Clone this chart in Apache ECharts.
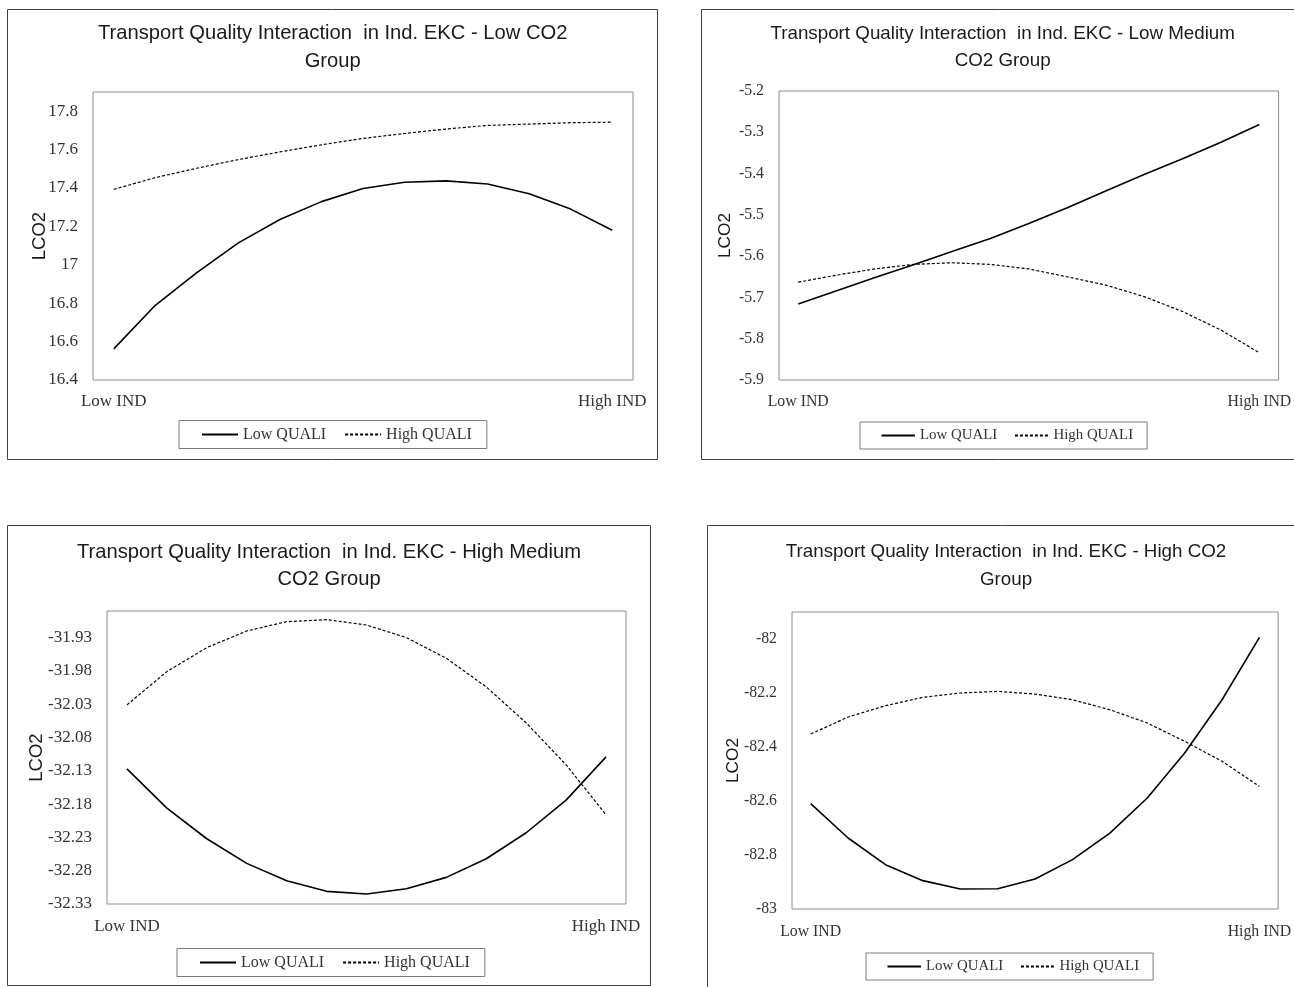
<!DOCTYPE html>
<html><head><meta charset="utf-8">
<script src="https://cdn.jsdelivr.net/npm/echarts@6/dist/echarts.min.js"></script>
<style>html,body{margin:0;padding:0;background:#fff}#chart{width:1294px;height:987px}</style>
</head><body><div id="chart"></div>
<script>
// ---------------- data ----------------
const categories = ['Low IND', '', '', '', '', '', '', '', '', '', '', '', 'High IND'];
const seriesNames = ['Low QUALI', 'High QUALI'];
const yAxisName = 'LCO2';

const titles = [
  'Transport Quality Interaction  in Ind. EKC - Low CO2\nGroup',
  'Transport Quality Interaction  in Ind. EKC - Low Medium\nCO2 Group',
  'Transport Quality Interaction  in Ind. EKC - High Medium\nCO2 Group',
  'Transport Quality Interaction  in Ind. EKC - High CO2\nGroup'
];

// Low CO2 group
const lowCO2_lowQuali  = [16.562, 16.789, 16.959, 17.114, 17.236, 17.329, 17.397, 17.430, 17.437, 17.421, 17.370, 17.290, 17.180];
const lowCO2_highQuali = [17.393, 17.454, 17.503, 17.548, 17.588, 17.625, 17.658, 17.684, 17.707, 17.726, 17.733, 17.740, 17.743];
// Low Medium CO2 group
const lowMed_lowQuali  = [-5.716, -5.684, -5.652, -5.621, -5.589, -5.557, -5.521, -5.483, -5.442, -5.402, -5.364, -5.324, -5.281];
const lowMed_highQuali = [-5.663, -5.646, -5.631, -5.620, -5.616, -5.620, -5.631, -5.650, -5.670, -5.698, -5.734, -5.779, -5.834];
// High Medium CO2 group
const highMed_lowQuali  = [-32.127, -32.186, -32.232, -32.269, -32.295, -32.311, -32.315, -32.307, -32.290, -32.262, -32.223, -32.174, -32.109];
const highMed_highQuali = [-32.031, -31.981, -31.945, -31.920, -31.906, -31.903, -31.911, -31.930, -31.961, -32.004, -32.058, -32.121, -32.196];
// High CO2 group
const high_lowQuali  = [-82.610, -82.737, -82.836, -82.895, -82.926, -82.925, -82.889, -82.817, -82.719, -82.589, -82.422, -82.225, -81.994];
const high_highQuali = [-82.352, -82.289, -82.247, -82.216, -82.200, -82.194, -82.204, -82.225, -82.262, -82.311, -82.379, -82.453, -82.546];

// y-axis scales (min, max, step) per panel
const yMin = [16.4, -5.9, -32.33, -83];
const yMax = [17.9, -5.2, -31.89, -81.9];
const yStep = [0.2, 0.1, 0.05, 0.2];
const yDecimals = [null, null, 2, null];
const yShowMaxLabel = [false, true, false, false];

const lowSeries = [lowCO2_lowQuali, lowMed_lowQuali, highMed_lowQuali, high_lowQuali];
const highSeries = [lowCO2_highQuali, lowMed_highQuali, highMed_highQuali, high_highQuali];

// ---------------- layout ----------------
const layout = [
  { s: 1.00, frame: [7.5, 9.5, 650, 450],  titleX: 332.7, titleY: 20, grid: [93, 92, 540, 288],  nameGap: 44, xMargin: 13, legend: [179, 420.5] },
  { s: 0.93, frame: [701.5, 9.5, 700, 450], titleX: 1002.7, titleY: 20, grid: [779, 91, 505, 289], nameGap: 45, xMargin: 14, legend: [860, 422] },
  { s: 1.00, frame: [7.5, 525.5, 643, 460], titleX: 329, titleY: 538.5, grid: [107, 611, 519, 293], nameGap: 61, xMargin: 14, legend: [177, 948.5] },
  { s: 0.93, frame: [707.5, 525.5, 700, 500], titleX: 1006, titleY: 538.5, grid: [792, 612, 493, 297], nameGap: 50, xMargin: 15, legend: [866, 953] }
];

const SERIF = 'Liberation Serif, Times New Roman, serif';
const SANS = 'Liberation Sans, Arial, sans-serif';

const option = {
  animation: false,
  backgroundColor: '#ffffff',
  grid: [], xAxis: [], yAxis: [], series: [], legend: [], graphic: []
};

layout.forEach((L, i) => {
  const s = L.s;
  option.graphic.push({
    type: 'rect', silent: true,
    shape: { x: L.frame[0], y: L.frame[1], width: L.frame[2], height: L.frame[3] },
    style: { fill: 'none', stroke: '#404040', lineWidth: 1 }
  });
  option.graphic.push({
    type: 'text', silent: true, x: L.titleX, y: L.titleY,
    style: {
      text: titles[i], fill: '#1a1a1a', fontFamily: SANS, fontSize: 20.2 * s,
      align: 'center', verticalAlign: 'top', lineHeight: 27.5
    }
  });
  option.grid.push({
    left: L.grid[0], top: L.grid[1], width: L.grid[2], height: L.grid[3],
    show: true, borderColor: '#8c8c8c', borderWidth: 1, containLabel: false
  });
  option.xAxis.push({
    type: 'category', gridIndex: i, data: categories, boundaryGap: true,
    axisLine: { show: false }, axisTick: { show: false }, splitLine: { show: false },
    axisLabel: { interval: 0, margin: L.xMargin, color: '#333', fontFamily: SERIF, fontSize: 17 * s }
  });
  const dec = yDecimals[i];
  option.yAxis.push({
    type: 'value', gridIndex: i, min: yMin[i], max: yMax[i], interval: yStep[i],
    name: yAxisName, nameLocation: 'middle', nameRotate: 90, nameGap: L.nameGap,
    nameMoveOverlap: false,
    nameTextStyle: { color: '#1a1a1a', fontFamily: SANS, fontSize: 18.5 * s },
    axisLine: { show: false }, axisTick: { show: false }, splitLine: { show: false },
    axisLabel: {
      margin: 15, color: '#333', fontFamily: SERIF, fontSize: 17 * s,
      showMaxLabel: yShowMaxLabel[i],
      formatter: dec == null ? null : (v => v.toFixed(dec))
    }
  });
  option.series.push({
    type: 'line', name: seriesNames[0], xAxisIndex: i, yAxisIndex: i, data: lowSeries[i],
    symbol: 'none', smooth: false, lineStyle: { color: '#000', width: 1.6, type: 'solid' },
    itemStyle: { color: '#000' }
  });
  option.series.push({
    type: 'line', name: seriesNames[1], xAxisIndex: i, yAxisIndex: i, data: highSeries[i],
    symbol: 'none', smooth: false, lineStyle: { color: '#000', width: 1.2, type: [3, 2] },
    itemStyle: { color: '#000' }
  });
  option.legend.push({
    left: L.legend[0], top: L.legend[1], orient: 'horizontal',
    data: seriesNames, itemWidth: 36 * s, itemHeight: 14, itemGap: 18 * s,
    padding: [6, 15 * s, 6, 22 * s], borderColor: '#7a7a7a', borderWidth: 1,
    selectedMode: false,
    itemStyle: { opacity: 0 },
    textStyle: { color: '#333', fontFamily: SERIF, fontSize: 16 * s }
  });
});

const chart = echarts.init(document.getElementById('chart'), null, { renderer: 'canvas' });
chart.setOption(option);
</script>
</body></html>
